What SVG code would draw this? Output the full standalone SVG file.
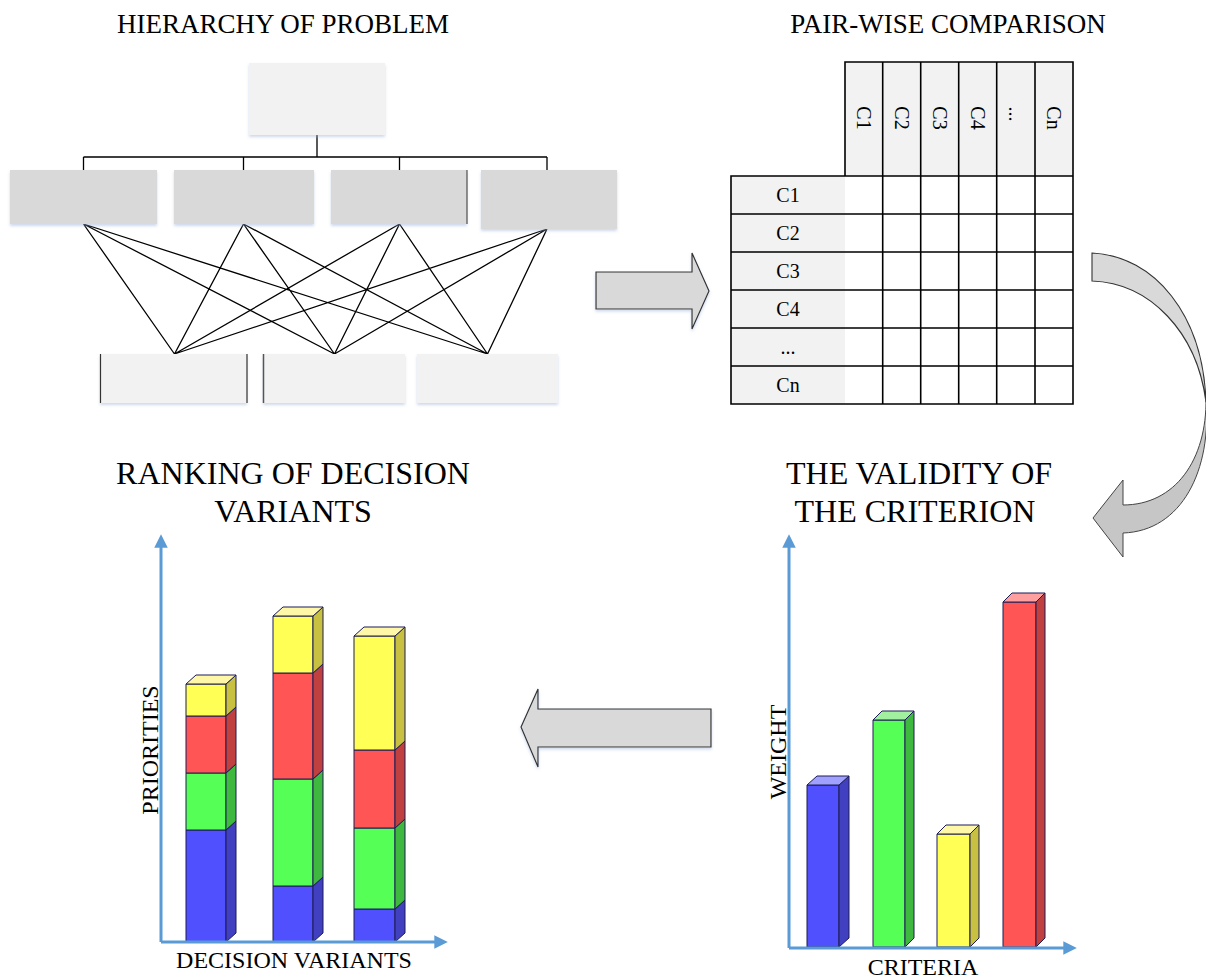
<svg xmlns="http://www.w3.org/2000/svg" width="1206" height="978" viewBox="0 0 1206 978">
<defs>
<style>
.title{font-family:"Liberation Serif","Times New Roman",serif;fill:#000;text-anchor:middle}
.t1{font-size:27px}
.t2{font-size:32px}
.lbl{font-family:"Liberation Serif","Times New Roman",serif;font-size:20px;fill:#000;text-anchor:middle}
.ax{font-family:"Liberation Serif","Times New Roman",serif;font-size:24px;fill:#000;text-anchor:middle}
.boxL{fill:#f2f2f2;filter:url(#sh)}
.boxD{fill:#d9d9d9;filter:url(#sh)}
.link{stroke:#000;stroke-width:1.3;fill:none}
.grid{stroke:#000;stroke-width:1.6;fill:none}
.hdr{fill:#f2f2f2}
.axis{stroke:#5b9bd5;stroke-width:3;fill:none}
.bar{stroke:#1c1c55;stroke-width:1;stroke-linejoin:round}
.bF{fill:#5050ff}.bS{fill:#4040c0}.bT{fill:#a0a0ff}
.gF{fill:#55ff55}.gS{fill:#3fb83f}.gT{fill:#a0f0a0}
.yF{fill:#ffff55}.yS{fill:#c8c040}.yT{fill:#fff7a8}
.rF{fill:#ff5555}.rS{fill:#c04040}.rT{fill:#ffa0a0}
.big{fill:#d9d9d9;stroke:#333;stroke-width:1.2;stroke-linejoin:miter;filter:url(#sh)}
</style>
<filter id="sh" x="-10%" y="-10%" width="120%" height="130%">
<feDropShadow dx="0" dy="2" stdDeviation="1.5" flood-color="#9fb4d8" flood-opacity="0.5"/>
</filter>
<marker id="ah" viewBox="0 0 10 10" refX="2" refY="5" markerWidth="4.5" markerHeight="4.5" orient="auto" markerUnits="strokeWidth">
<path d="M0,0 L10,5 L0,10 Z" fill="#5b9bd5"/>
</marker>
</defs>
<rect width="1206" height="978" fill="#fff"/>

<!-- Titles -->
<g id="titles">
<text class="title t1" x="283" y="33">HIERARCHY OF PROBLEM</text>
<text class="title t1" x="948" y="33">PAIR-WISE COMPARISON</text>
<text class="title t2" x="293" y="484">RANKING OF DECISION</text>
<text class="title t2" x="293" y="522">VARIANTS</text>
<text class="title t2" x="919" y="484">THE VALIDITY OF</text>
<text class="title t2" x="915" y="522">THE CRITERION</text>
</g>

<!-- Hierarchy -->
<g id="hier-connectors">
<path class="link" d="M317,135 V157 M83.5,157 H547 M83.5,157 V170 M243.5,157 V170 M399.5,157 V170 M547,157 V170"/>
<path class="link" d="M83.5,224 L174.5,354 M83.5,224 L334.5,354 M83.5,224 L487.5,354
M243.5,224 L174.5,354 M243.5,224 L334.5,354 M243.5,224 L487.5,354
M399.5,224 L174.5,354 M399.5,224 L334.5,354 M399.5,224 L487.5,354
M547,229 L174.5,354 M547,229 L334.5,354 M547,229 L487.5,354"/>
</g>
<g id="goal"><rect class="boxL" x="249" y="63" width="136" height="72"/></g>
<g id="crit1"><rect class="boxD" x="10" y="170" width="147" height="54"/></g>
<g id="crit2"><rect class="boxD" x="174" y="170" width="140" height="54"/></g>
<g id="crit3"><rect class="boxD" x="331" y="170" width="136" height="54"/><line x1="467" y1="170" x2="467" y2="224" stroke="#333" stroke-width="1"/></g>
<g id="crit4"><rect class="boxD" x="481" y="170" width="136" height="59"/></g>
<g id="alt1"><rect class="boxL" x="100" y="354" width="147" height="49"/><path d="M100.5,354 V403 M247,354 V403" stroke="#333" stroke-width="1.2"/></g>
<g id="alt2"><rect class="boxL" x="263" y="354" width="142" height="49"/><path d="M263.5,354 V403" stroke="#555" stroke-width="1.5"/></g>
<g id="alt3"><rect class="boxL" x="417" y="354" width="141" height="49"/></g>

<!-- Arrows -->
<g id="arrow-right"><path class="big" d="M596,272 H692 V253 L709,291 L692,329 V309 H596 Z"/></g>
<g id="arrow-left"><path class="big" d="M711,709 H538 V689 L521,727 L538,767 V747 H711 Z"/></g>
<g id="arrow-curved">
<path d="M1092,253 C1155,256 1203,315 1206,402 C1197,332 1150,283 1092,281 Z" fill="#d9d9d9" stroke="#333" stroke-width="1.1"/>
<path d="M1206,398 C1207,460 1175,505 1123,505 L1123,480 L1093,518 L1123,557 L1123,533 C1182,531 1212,470 1206,398 Z" fill="#c6c6c6" stroke="#444" stroke-width="1"/>
</g>

<!-- Matrix -->
<g id="matrix">
<rect class="hdr" x="845" y="62" width="228" height="114"/>
<rect class="hdr" x="731" y="176" width="114" height="228"/>
<rect x="845" y="176" width="228" height="228" fill="#fff"/>
<path class="grid" d="M845,62 H1073 V404 H731 V176 H845 Z
M882.7,62 V404 M920.7,62 V404 M958.7,62 V404 M996.7,62 V404 M1035,62 V404
M731,214 H1073 M731,252 H1073 M731,290 H1073 M731,328 H1073 M731,366 H1073 M845,176 H1073"/>
<g class="lbl">
<text transform="translate(864,118) rotate(90)" dy="7">C1</text>
<text transform="translate(902,118) rotate(90)" dy="7">C2</text>
<text transform="translate(940,118) rotate(90)" dy="7">C3</text>
<text transform="translate(978,118) rotate(90)" dy="7">C4</text>
<text transform="translate(1016,114) rotate(90)" dy="7">...</text>
<text transform="translate(1054,118) rotate(90)" dy="7">Cn</text>
<text x="788" y="202">C1</text>
<text x="788" y="240">C2</text>
<text x="788" y="278">C3</text>
<text x="788" y="316">C4</text>
<text x="788" y="354">...</text>
<text x="788" y="392">Cn</text>
</g>
</g>

<!-- Ranking chart -->
<g id="ranking-chart">
<g class="bar">
<rect class="bF" x="186" y="830" width="40" height="112"/>
<rect class="gF" x="186" y="773" width="40" height="57"/>
<rect class="rF" x="186" y="716" width="40" height="57"/>
<rect class="yF" x="186" y="684" width="40" height="32"/>
<polygon class="bS" points="226,830 236,821 236,933 226,942"/>
<polygon class="gS" points="226,773 236,764 236,821 226,830"/>
<polygon class="rS" points="226,716 236,707 236,764 226,773"/>
<polygon class="yS" points="226,684 236,675 236,707 226,716"/>
<polygon class="yT" points="186,684 196,675 236,675 226,684"/>
<rect class="bF" x="273" y="886" width="40" height="56"/>
<rect class="gF" x="273" y="779" width="40" height="107"/>
<rect class="rF" x="273" y="673" width="40" height="106"/>
<rect class="yF" x="273" y="616" width="40" height="57"/>
<polygon class="bS" points="313,886 323,877 323,933 313,942"/>
<polygon class="gS" points="313,779 323,770 323,877 313,886"/>
<polygon class="rS" points="313,673 323,664 323,770 313,779"/>
<polygon class="yS" points="313,616 323,607 323,664 313,673"/>
<polygon class="yT" points="273,616 283,607 323,607 313,616"/>
<rect class="bF" x="354" y="909" width="41" height="33"/>
<rect class="gF" x="354" y="828" width="41" height="81"/>
<rect class="rF" x="354" y="750" width="41" height="78"/>
<rect class="yF" x="354" y="636" width="41" height="114"/>
<polygon class="bS" points="395,909 405,900 405,933 395,942"/>
<polygon class="gS" points="395,828 405,819 405,900 395,909"/>
<polygon class="rS" points="395,750 405,741 405,819 395,828"/>
<polygon class="yS" points="395,636 405,627 405,741 395,750"/>
<polygon class="yT" points="354,636 364,627 405,627 395,636"/>
</g>
<path class="axis" d="M161,942 V545" marker-end="url(#ah)"/>
<path class="axis" d="M161,942 H437" marker-end="url(#ah)"/>
<text class="ax" transform="translate(158,750) rotate(-90)" font-size="23">PRIORITIES</text>
<text class="ax" x="294" y="968">DECISION VARIANTS</text>
</g>

<!-- Criteria chart -->
<g id="criteria-chart">
<g class="bar">
<rect class="bF" x="807" y="785" width="32" height="162"/>
<polygon class="bS" points="839,785 849,776 849,938 839,947"/>
<polygon class="bT" points="807,785 817,776 849,776 839,785"/>
<rect class="gF" x="873" y="720" width="32" height="227"/>
<polygon class="gS" points="905,720 914,711 914,938 905,947"/>
<polygon class="gT" points="873,720 882,711 914,711 905,720"/>
<rect class="yF" x="937" y="834" width="33" height="113"/>
<polygon class="yS" points="970,834 979,825 979,938 970,947"/>
<polygon class="yT" points="937,834 946,825 979,825 970,834"/>
<rect class="rF" x="1003" y="602" width="33" height="345"/>
<polygon class="rS" points="1036,602 1045,593 1045,938 1036,947"/>
<polygon class="rT" points="1003,602 1012,593 1045,593 1036,602"/>
</g>
<path class="axis" d="M789,948 V545" marker-end="url(#ah)"/>
<path class="axis" d="M789,948 H1066" marker-end="url(#ah)"/>
<text class="ax" transform="translate(786,752) rotate(-90)" font-size="23">WEIGHT</text>
<text class="ax" x="923" y="975">CRITERIA</text>
</g>
</svg>
